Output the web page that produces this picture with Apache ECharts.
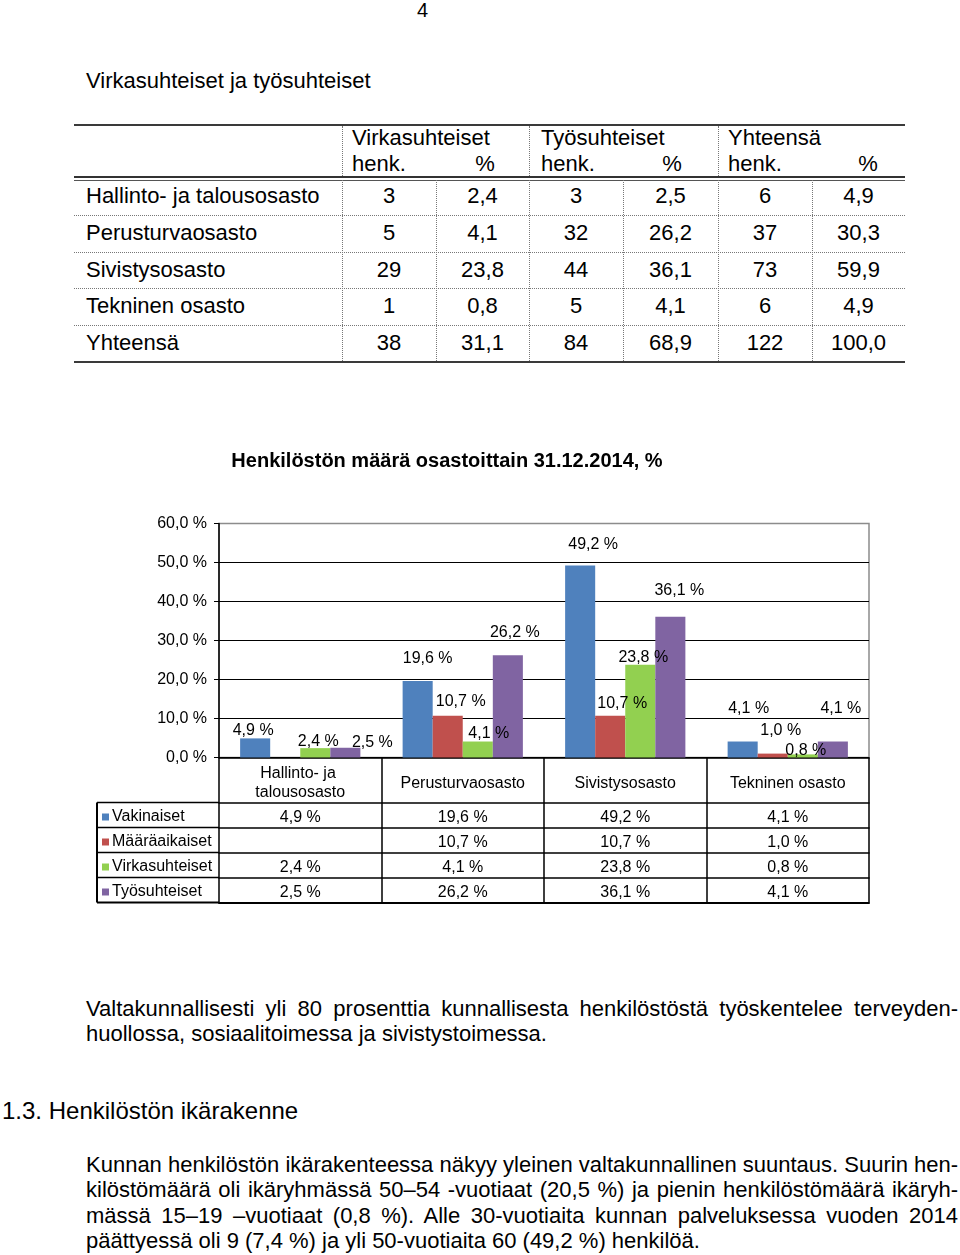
<!DOCTYPE html>
<html>
<head>
<meta charset="utf-8">
<script src="https://cdn.jsdelivr.net/npm/echarts@6/dist/echarts.min.js"></script>
<style>
  html, body { margin: 0; padding: 0; background: #fff; }
  body { width: 960px; height: 1255px; position: relative; overflow: hidden;
         font-family: "Liberation Sans", Arial, sans-serif; color: #000; }
  .t { position: absolute; white-space: nowrap; font-size: 22px; line-height: 26px; }
  .hl { position: absolute; height: 0; }
  .vl { position: absolute; width: 0; }
  .cell { position: absolute; font-size: 22px; text-align: center; white-space: nowrap; }
  .jline { position: absolute; left: 86px; width: 872px; font-size: 22px; line-height: 25.4px;
           height: 25.4px; white-space: nowrap; text-align: justify; text-align-last: justify; }
  .lline { text-align: left; text-align-last: left; }
  #chart { position: absolute; left: 0; top: 430px; width: 960px; height: 490px; }
</style>
</head>
<body>
<div class="t" style="left:417px; top:-2px; font-size:20px; line-height:24px;">4</div>
<div class="t" style="left:86px; top:68px;">Virkasuhteiset ja työsuhteiset</div>
<div id="toptable"></div>
<div id="chart"></div>

<div class="jline" style="top:996px;">Valtakunnallisesti yli 80 prosenttia kunnallisesta henkilöstöstä työskentelee terveyden-</div>
<div class="jline lline" style="top:1021.4px;">huollossa, sosiaalitoimessa ja sivistystoimessa.</div>

<div class="t" style="left:2px; top:1097px; font-size:24px; line-height:28px;">1.3. Henkilöstön ikärakenne</div>

<div class="jline" style="top:1152px;">Kunnan henkilöstön ikärakenteessa näkyy yleinen valtakunnallinen suuntaus. Suurin hen-</div>
<div class="jline" style="top:1177.4px;">kilöstömäärä oli ikäryhmässä 50–54 -vuotiaat (20,5 %) ja pienin henkilöstömäärä ikäryh-</div>
<div class="jline" style="top:1202.8px;">mässä 15–19 –vuotiaat (0,8 %). Alle 30-vuotiaita kunnan palveluksessa vuoden 2014</div>
<div class="jline lline" style="top:1228.2px;">päättyessä oli 9 (7,4 %) ja yli 50-vuotiaita 60 (49,2 %) henkilöä.</div>

<script>
// ---------- Top table data ----------
const tableRowNames = ['Hallinto- ja talousosasto', 'Perusturvaosasto', 'Sivistysosasto', 'Tekninen osasto', 'Yhteensä'];
const virkaHenk = ['3', '5', '29', '1', '38'];
const virkaPct  = ['2,4', '4,1', '23,8', '0,8', '31,1'];
const tyoHenk   = ['3', '32', '44', '5', '84'];
const tyoPct    = ['2,5', '26,2', '36,1', '4,1', '68,9'];
const yhtHenk   = ['6', '37', '73', '6', '122'];
const yhtPct    = ['4,9', '30,3', '59,9', '4,9', '100,0'];
const groupHeaders = ['Virkasuhteiset', 'Työsuhteiset', 'Yhteensä'];

// ---------- Chart data ----------
const categories = ['Hallinto- ja talousosasto', 'Perusturvaosasto', 'Sivistysosasto', 'Tekninen osasto'];
const seriesNames = ['Vakinaiset', 'Määräaikaiset', 'Virkasuhteiset', 'Työsuhteiset'];
const vakinaiset     = [4.9, 19.6, 49.2, 4.1];
const maaraaikaiset  = [null, 10.7, 10.7, 1.0];
const virkasuhteiset = [2.4, 4.1, 23.8, 0.8];
const tyosuhteiset   = [2.5, 26.2, 36.1, 4.1];
const chartTitle = 'Henkilöstön määrä osastoittain 31.12.2014, %';

// hand-placed label nudges from the original (dx, dy), per series per category
const labelNudges = [
  [[-2, 5], [10, -9], [13, -8], [6, -20]],
  [[0, 0], [13, -1], [12, 1], [8, -10]],
  [[3, 6], [11, 5], [3, 6], [3, 9]],
  [[27, 8], [7, -10], [9, -13], [8, -20]]
];

// ---------- Build top table (HTML) ----------
(function () {
  const host = document.getElementById('toptable');
  let h = '';
  const colEdges = [342, 436, 529, 623, 718, 812, 905];
  const rowTops = [178, 214.8, 251.6, 288.4, 325.2, 362];
  h += '<div class="hl" style="left:74px; width:831px; top:124px; border-top:2px solid #3a3a3a;"></div>';
  h += '<div class="hl" style="left:74px; width:831px; top:176px; height:2px; border-top:2px solid #333; border-bottom:1px solid #555;"></div>';
  h += '<div class="hl" style="left:74px; width:831px; top:361px; border-top:2px solid #3a3a3a;"></div>';
  for (let r = 1; r < 5; r++) {
    h += '<div class="hl" style="left:74px; width:831px; top:' + rowTops[r] + 'px; border-top:1px dotted #777;"></div>';
  }
  [342, 529, 718].forEach(x => {
    h += '<div class="vl" style="left:' + x + 'px; top:126px; height:50px; border-left:1px dotted #777;"></div>';
  });
  colEdges.slice(0, 6).forEach(x => {
    h += '<div class="vl" style="left:' + x + 'px; top:180px; height:181px; border-left:1px dotted #777;"></div>';
  });
  const grpLeft = [352, 541, 728];
  const pctCenter = [485, 672, 868];
  groupHeaders.forEach((g, i) => {
    h += '<div class="t" style="left:' + grpLeft[i] + 'px; top:125px;">' + g + '</div>';
    h += '<div class="t" style="left:' + grpLeft[i] + 'px; top:150.5px;">henk.</div>';
    h += '<div class="t" style="left:' + (pctCenter[i] - 20) + 'px; width:40px; text-align:center; top:150.5px;">%</div>';
  });
  const cols = [virkaHenk, virkaPct, tyoHenk, tyoPct, yhtHenk, yhtPct];
  for (let r = 0; r < 5; r++) {
    const top = rowTops[r];
    const hgt = rowTops[r + 1] - rowTops[r];
    h += '<div class="cell" style="left:86px; text-align:left; top:' + top + 'px; height:' + hgt + 'px; line-height:' + hgt + 'px;">' + tableRowNames[r] + '</div>';
    for (let c = 0; c < 6; c++) {
      const l = colEdges[c], w = colEdges[c + 1] - colEdges[c];
      h += '<div class="cell" style="left:' + l + 'px; width:' + w + 'px; top:' + top + 'px; height:' + hgt + 'px; line-height:' + hgt + 'px;">' + cols[c][r] + '</div>';
    }
  }
  host.innerHTML = h;
})();

// ---------- Chart ----------
const FONT = '"Liberation Sans", Arial, sans-serif';
const colors = ['#4F81BD', '#C0504D', '#92D050', '#8064A2'];
const seriesValues = [vakinaiset, maaraaikaiset, virkasuhteiset, tyosuhteiset];
const fmtPct = v => (v === null || v === undefined) ? '' : v.toFixed(1).replace('.', ',') + ' %';

const GRID = { left: 219, top: 93.5, width: 650, height: 234 };
const GRID_BOTTOM = GRID.top + GRID.height;
const ROW_START = 45, ROW_H = 25;

const chart = echarts.init(document.getElementById('chart'), null, { renderer: 'canvas' });

const xAxes = [{
  type: 'category',
  data: categories,
  gridIndex: 0,
  position: 'bottom',
  axisLine: { show: true, lineStyle: { color: '#000', width: 1.5 } },
  axisTick: { show: true, interval: 0, length: ROW_START + ROW_H * 4, lineStyle: { color: '#000', width: 1.5 } },
  axisLabel: {
    interval: 0, margin: 26, verticalAlign: 'middle', fontSize: 16, color: '#000',
    fontFamily: FONT, width: 150, overflow: 'break', lineHeight: 19
  },
  splitLine: { show: false }
}];
for (let k = 0; k <= 4; k++) {
  xAxes.push({
    type: 'category',
    data: categories,
    gridIndex: 0,
    position: 'bottom',
    offset: ROW_START + ROW_H * k,
    axisLine: { show: true, lineStyle: { color: '#000', width: k === 4 ? 2 : 1.5 } },
    axisTick: { show: false },
    axisLabel: k < 4 ? {
      show: true, interval: 0, margin: 15, verticalAlign: 'middle', fontSize: 16,
      color: '#000', fontFamily: FONT,
      formatter: (v, i) => fmtPct(seriesValues[k][i])
    } : { show: false },
    splitLine: { show: false }
  });
}

const series = seriesNames.map((name, s) => ({
  name: name,
  type: 'bar',
  xAxisIndex: 0,
  yAxisIndex: 0,
  barGap: '0%',
  barCategoryGap: '26%',
  itemStyle: { color: colors[s] },
  label: {
    show: true, position: 'top', distance: 5, fontSize: 16, color: '#000', fontFamily: FONT,
    formatter: p => fmtPct(p.value)
  },
  data: seriesValues[s].map((v, i) => ({
    value: v,
    label: { offset: labelNudges[s][i] }
  }))
}));

const graphics = [];
for (let k = 0; k <= 4; k++) {
  const y = GRID_BOTTOM + ROW_START + ROW_H * k;
  graphics.push({
    type: 'line', shape: { x1: 97, y1: y, x2: GRID.left, y2: y },
    style: { stroke: '#000', lineWidth: k === 4 ? 2 : 1.5 }, silent: true
  });
}
graphics.push({
  type: 'line', shape: { x1: 97, y1: GRID_BOTTOM + ROW_START, x2: 97, y2: GRID_BOTTOM + ROW_START + ROW_H * 4 },
  style: { stroke: '#000', lineWidth: 2 }, silent: true
});

chart.setOption({
  animation: false,
  textStyle: { fontFamily: FONT },
  title: {
    text: chartTitle,
    left: 447, top: 21, textAlign: 'center', padding: 0,
    textStyle: { fontSize: 20, fontWeight: 'bold', color: '#000', fontFamily: FONT, lineHeight: 20 }
  },
  legend: {
    data: seriesNames,
    orient: 'vertical',
    left: 102,
    top: GRID_BOTTOM + ROW_START + 2,
    padding: 0,
    itemGap: 0,
    itemWidth: 7,
    itemHeight: 7,
    icon: 'rect',
    selectedMode: false,
    textStyle: { fontSize: 16, color: '#000', fontFamily: FONT, lineHeight: 25, padding: [0, 0, 0, -2] }
  },
  grid: {
    left: GRID.left, top: GRID.top, width: GRID.width, height: GRID.height,
    show: true, borderColor: '#8c8c8c', borderWidth: 1.5, containLabel: false
  },
  xAxis: xAxes,
  yAxis: {
    type: 'value', min: 0, max: 60, interval: 10,
    axisLine: { show: true, lineStyle: { color: '#000', width: 1.5 } },
    axisTick: { show: true, length: 5, lineStyle: { color: '#000', width: 1 } },
    axisLabel: {
      margin: 12, fontSize: 16, color: '#000', fontFamily: FONT,
      formatter: v => v.toFixed(1).replace('.', ',') + ' %'
    },
    splitLine: { show: true, lineStyle: { color: ['#000', '#000', '#000', '#000', '#000', '#000', '#8c8c8c'], width: 1 } }
  },
  series: series,
  graphic: graphics
});
</script>
</body>
</html>
